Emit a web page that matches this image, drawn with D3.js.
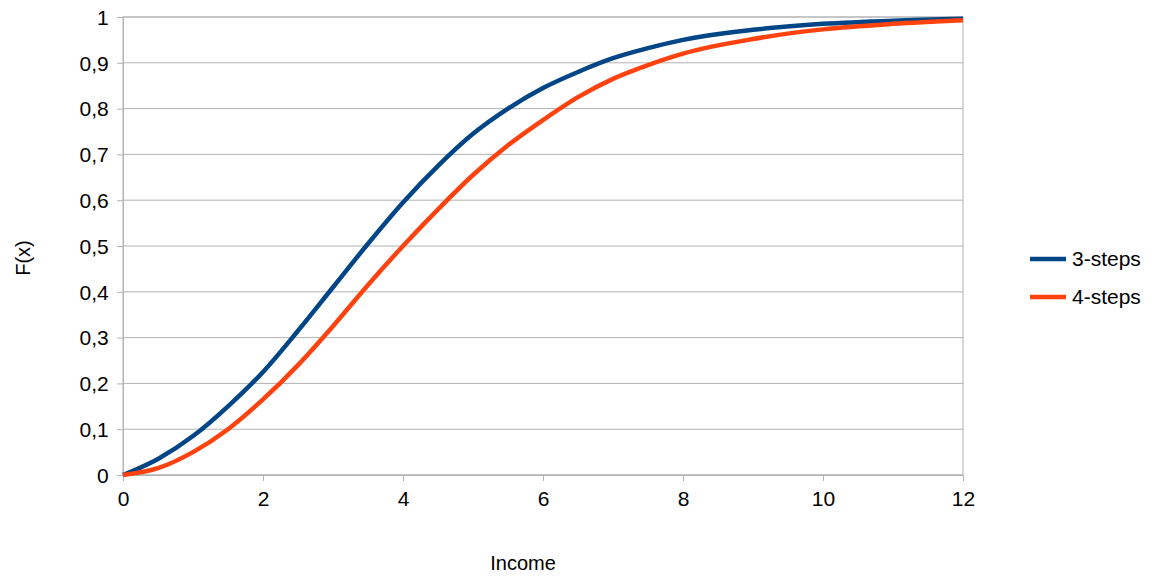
<!DOCTYPE html>
<html><head><meta charset="utf-8">
<script src="https://cdn.jsdelivr.net/npm/d3@7"></script>
<style>body{margin:0;background:#fff}text{font-family:"Liberation Sans",Arial,sans-serif}</style>
</head><body><svg id="c" width="1159" height="582"></svg>
<script>
const xs = [0,0.5,1,1.5,2,2.5,3,3.5,4,4.5,5,5.5,6,6.5,7,7.5,8,9,10,11,12];
const steps3 = [0,0.035,0.085,0.15,0.225,0.315,0.41,0.505,0.595,0.675,0.745,0.80,0.845,0.88,0.91,0.932,0.95,0.972,0.985,0.992,0.996];
const steps4 = [0,0.015,0.05,0.10,0.165,0.24,0.325,0.415,0.50,0.58,0.655,0.72,0.775,0.825,0.865,0.895,0.92,0.952,0.973,0.985,0.993];
const seriesNames = ["3-steps","4-steps"];
const colors = ["#004586","#ff420e"];
const xTicks = [0,2,4,6,8,10,12];
const yTicks = [0,0.1,0.2,0.3,0.4,0.5,0.6,0.7,0.8,0.9,1];

const svg = d3.select("#c");
const x = d3.scaleLinear().domain([0,12]).range([123,963]);
const y = d3.scaleLinear().domain([0,1]).range([475,17]);
const fmt = v => String(+v.toFixed(1)).replace(".", ",");

svg.append("g").selectAll("line").data(yTicks).join("line")
  .attr("x1",123).attr("x2",963).attr("y1",d=>y(d)).attr("y2",d=>y(d))
  .attr("stroke","#b3b3b3");
svg.append("rect").attr("x",123).attr("y",17).attr("width",840).attr("height",458)
  .attr("fill","none").attr("stroke","#b3b3b3");

const gx = svg.append("g").attr("transform","translate(0,475)")
  .call(d3.axisBottom(x).tickValues(xTicks).tickSize(6).tickFormat(d=>d));
const gy = svg.append("g").attr("transform","translate(123,0)")
  .call(d3.axisLeft(y).tickValues(yTicks).tickSize(6).tickFormat(fmt));
[gx,gy].forEach(g=>{g.select(".domain").attr("stroke","#b3b3b3");
  g.selectAll(".tick line").attr("stroke","#b3b3b3");
  g.selectAll("text").attr("font-size",21).attr("fill","#000").style("font-family","Liberation Sans, Arial");});
gx.selectAll("text").attr("dy","1.05em");
gy.selectAll("text").attr("dx","-0.25em").attr("dy","0.35em");

const line = d3.line().x((d,i)=>x(xs[i])).y(d=>y(d)).curve(d3.curveMonotoneX);
[steps3,steps4].forEach((s,i)=>{
  svg.append("path").attr("d",line(s)).attr("fill","none").attr("stroke",colors[i]).attr("stroke-width",4.5);
});

svg.append("text").attr("x",523).attr("y",570).attr("text-anchor","middle").attr("font-size",20).text("Income");
svg.append("text").attr("transform","translate(30,258) rotate(-90)").attr("text-anchor","middle").attr("font-size",20).text("F(x)");

seriesNames.forEach((n,i)=>{
  const yy = 259 + i*38;
  svg.append("line").attr("x1",1030).attr("x2",1066).attr("y1",yy).attr("y2",yy).attr("stroke",colors[i]).attr("stroke-width",4.5);
  svg.append("text").attr("x",1072).attr("y",yy+7).attr("font-size",21).text(n);
});
</script></body></html>
